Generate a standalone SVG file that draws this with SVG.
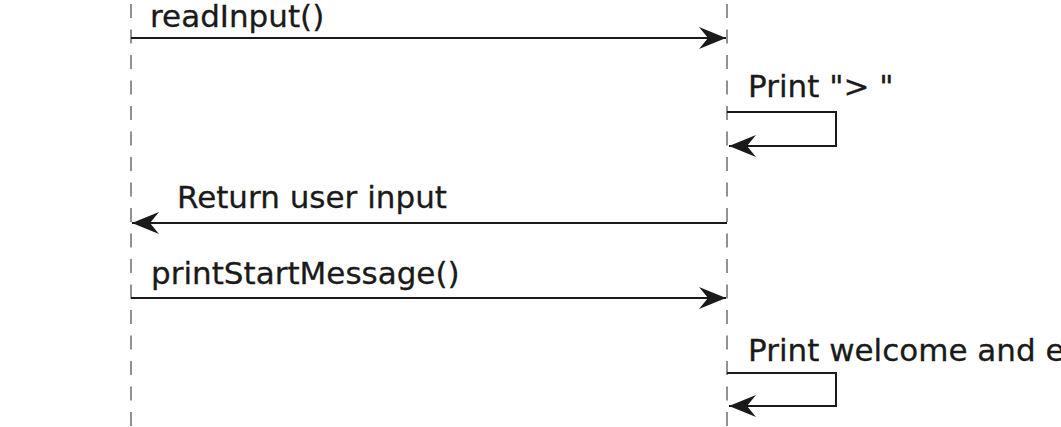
<svg xmlns="http://www.w3.org/2000/svg" width="1061" height="427" viewBox="0 0 1061 427">
  <style>
    .life { stroke: #6e6e6e; stroke-width: 1.5; stroke-dasharray: 14 11.5; stroke-dashoffset: 21.5; fill: none; }
    .msg { stroke: #1a1a1a; stroke-width: 2; fill: none; }
    .lbl { font-family: "DejaVu Sans", "Liberation Sans", sans-serif; font-size: 31px; fill: #1a1a1a; stroke: #1a1a1a; stroke-width: 0.3; }
  </style>
  <defs>
    <marker id="arr" viewBox="-30 -13 32 26" refX="0" refY="0" markerWidth="32" markerHeight="26" markerUnits="userSpaceOnUse" orient="auto">
      <path d="M0,0 L-27,-11 L-18,0 L-27,11 Z" fill="#1a1a1a"/>
    </marker>
  </defs>
  <rect width="1061" height="427" fill="#ffffff"/>
  <g id="lifeline-left">
    <line class="life" x1="131" y1="0" x2="131" y2="427"/>
  </g>
  <g id="lifeline-right">
    <line class="life" x1="727" y1="0" x2="727" y2="427"/>
  </g>
  <g id="connectors">
    <line class="msg" x1="131" y1="38" x2="726" y2="38" marker-end="url(#arr)"/>
    <text class="lbl" x="150" y="27">readInput()</text>
    <polyline class="msg" points="727,112 836,112 836,146 729,146" marker-end="url(#arr)"/>
    <text class="lbl" x="748" y="97">Print "&gt; "</text>
    <line class="msg" x1="727" y1="223" x2="132" y2="223" marker-end="url(#arr)"/>
    <text class="lbl" x="177" y="208">Return user input</text>
    <line class="msg" x1="131" y1="298" x2="726" y2="298" marker-end="url(#arr)"/>
    <text class="lbl" x="151" y="284">printStartMessage()</text>
    <polyline class="msg" points="727,373 836,373 836,406 729,406" marker-end="url(#arr)"/>
    <text class="lbl" x="748" y="361">Print welcome and e</text>
  </g>
</svg>
